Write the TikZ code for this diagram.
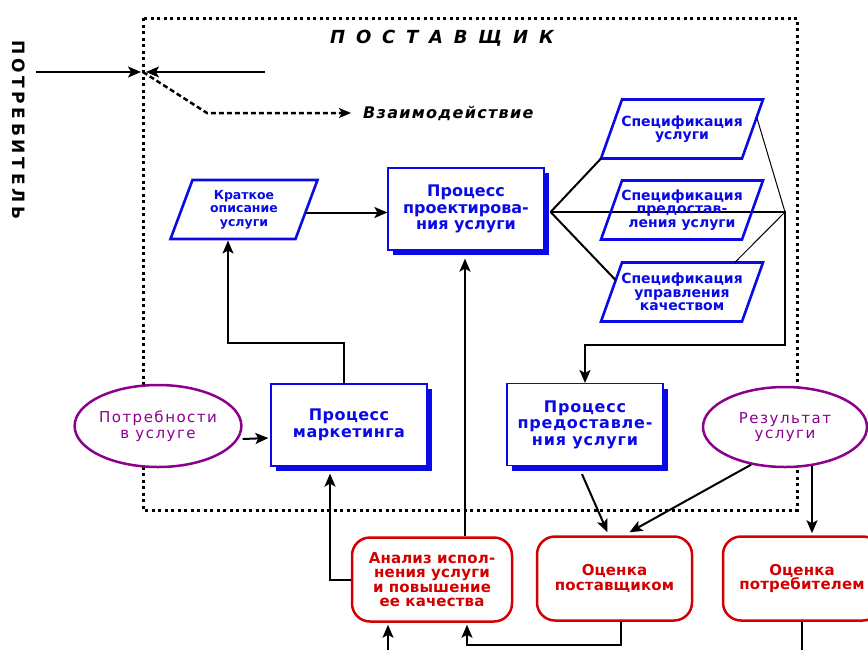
\documentclass[tikz,border=0pt]{standalone}
\usepackage{fontspec}
\setmainfont{DejaVu Sans}
\usetikzlibrary{arrows.meta,calc,shapes.geometric,shadows}
\definecolor{bxblue}{RGB}{10,10,230}
\definecolor{bxpurple}{RGB}{140,0,140}
\definecolor{bxred}{RGB}{210,0,0}
\newcommand\lsp[1]{\addfontfeature{LetterSpace=#1}}
\newcommand\pgm[4]{%
  \coordinate (#1-bl) at ($(#1)+({-(#2)/2},{(#3)/2})$);
  \coordinate (#1-br) at ($(#1)+({(#2)/2-(#4)},{(#3)/2})$);
  \coordinate (#1-tr) at ($(#1)+({(#2)/2},{-(#3)/2})$);
  \coordinate (#1-tl) at ($(#1)+({-(#2)/2+(#4)},{-(#3)/2})$);
  \draw[pgline] (#1-bl) -- (#1-br) -- (#1-tr) -- (#1-tl) -- cycle;}
\begin{document}
\begin{tikzpicture}[x=1pt,y=-1pt,
  every node/.style={inner sep=0pt, align=center},
  border/.style={line width=3pt, dash pattern=on 3pt off 3.5pt},
  pgline/.style={draw=bxblue, line width=2.6pt, line join=miter},
  ptext/.style={text=bxblue, font=\bfseries\fontsize{#1}{13.5}\selectfont},
  proc/.style={draw=bxblue, line width=1.2pt, fill=white, minimum width=156pt, minimum height=82pt,
     text=bxblue, drop shadow={fill=bxblue, opacity=1, shadow xshift=5pt, shadow yshift=-5pt}},
  ptitle/.style={font=\bfseries\fontsize{16}{16.5}\selectfont\lsp{#1}},
  ell/.style={ellipse, draw=bxpurple, line width=2.5pt, fill=white, text=bxpurple,
     font=\fontsize{15}{15.5}\selectfont\lsp{10}},
  rbox/.style={draw=bxred, line width=2.5pt, rounded corners=18pt, fill=white, text=bxred,
     minimum height=84pt, font=\bfseries\fontsize{15}{14.5}\selectfont\lsp{1}},
  ln/.style={line width=2pt},
  thin/.style={line width=1pt},
  arr/.style={line width=2pt, -{Stealth[length=13pt,width=11pt,inset=3pt]}},
  dsh/.style={line width=2.5pt, dash pattern=on 5pt off 3pt}
]
\useasboundingbox (0,0) rectangle (868,649);
\draw[border] (143,18) rectangle (797,510);

% titles
\node[anchor=west, font=\bfseries\itshape\fontsize{18}{18}\selectfont\lsp{60}] (post) at (330,38) {ПОСТАВЩИК};
\node[anchor=west, rotate=-90, font=\bfseries\fontsize{17}{17}\selectfont\lsp{22}] (potr) at (19,40) {ПОТРЕБИТЕЛЬ};

% interaction
\coordinate (meet) at (143,72);
\coordinate (lstart) at (36,72);
\coordinate (rstart) at (265,72);
\coordinate (bend) at (207,113);
\node[anchor=west, font=\bfseries\itshape\fontsize{16}{16}\selectfont\lsp{8}] (vz) at (363,113) {Взаимодействие};
\draw[arr] (lstart) -- ($(meet)+(-2,0)$);
\draw[arr] (rstart) -- ($(meet)+(3,0)$);
\draw[dsh, -{Stealth[length=12pt,width=10pt,inset=3pt]}] (meet) -- (bend) -- ($(vz.west)+(-12,0)$);

% parallelograms
\node[ptext=12.5] (kr) at (244,209.5) {Краткое\\описание\\услуги};
\pgm{kr}{147}{59}{22}
\node[ptext=14] (s1) at (682,129) {Спецификация\\услуги};
\pgm{s1}{162}{59}{21}
\coordinate (join) at (785,212);
\node[proc, ptitle=0] (pd) at (466,209) {Процесс\\проектирова-\\ния услуги};
\coordinate (pdout) at ($(pd.east)+(6,3)$);
\draw[ln] (pdout) -- (join);
\node[ptext=14] (s2) at (682,210) {Спецификация\\предостав-\\ления услуги};
\pgm{s2}{162}{59}{21}
\node[ptext=14] (s3) at (682,292) {Спецификация\\управления\\качеством};
\pgm{s3}{162}{59}{21}

\draw[ln] (pdout) -- (s1-bl);
\draw[ln] (pdout) -- ($(s3-tl)!0.3!(s3-bl)$);
\draw[thin] ($(s1-tr)!0.3!(s1-br)$) -- (join);
\draw[thin] ($(s3-tl)!0.8!(s3-tr)$) -- (join);
\draw[arr] ($(join)+(0,-1)$) -- (785,345) -| (585,383);

% processes
\node[proc, ptitle=3] (pm) at (349,425) {Процесс\\маркетинга};
\node[proc, ptitle=5] (pp) at (585,424.5) {Процесс\\предоставле-\\ния услуги};
\node[ell, minimum width=160pt, minimum height=82pt] (en) at (158,426) {Потребности\\в услуге};
\node[ell, minimum width=164pt, minimum height=80pt] (er) at (785,427) {Результат\\услуги};

% red boxes
\node[rbox, minimum width=160pt] (ra) at (432,579.5) {Анализ испол-\\нения услуги\\и повышение\\ее качества};
\node[rbox, minimum width=155pt] (ro) at (614.5,578.5) {Оценка\\поставщиком};
\node[rbox, minimum width=158pt] (rp) at (802,578.5) {Оценка\\потребителем};

% connectors
\coordinate (krr) at ($(kr)+(62,3)$);
\draw[arr] (krr) -- (krr -| pd.west);
\coordinate (pmtop) at ($(pm.north)+(-5,0)$);
\coordinate (krbot) at ($(kr)+(-16,31)$);
\draw[arr] (pmtop) -- ++(0,-40) -| (krbot);
\draw[arr] ($(en.east)+(0,13)$) -- ($(pm.west)+(-2,13)$);
\draw[arr] ($(pp.south)+(-3,8)$) -- ($(ro.north)+(-7,-3)$);
\draw[arr] (er.-132) -- ($(ro.north)+(15,-3)$);
\coordinate (ers) at ($(er.south)+(27,-2)$);
\draw[arr] (ers) -- ($(ers |- rp.north)+(0,-2)$);
\draw[arr] (ra.west) -| ($(pm.south)+(-19,7)$);
\coordinate (ratop) at ($(ra.north)+(33,0)$);
\draw[arr] (ratop) -- ($(ratop |- pd.south)+(0,8)$);
\draw[arr] ($(ro.south)+(6,0)$) -- ++(0,23) -| ($(ra.south)+(35,2)$);
\coordinate (bot1) at ($(ra.south)+(-44,32)$);
\draw[arr] (bot1) -- ($(bot1 |- ra.south)+(0,2)$);
\draw[ln] (rp.south) -- ++(0,35);
\end{tikzpicture}
\end{document}
